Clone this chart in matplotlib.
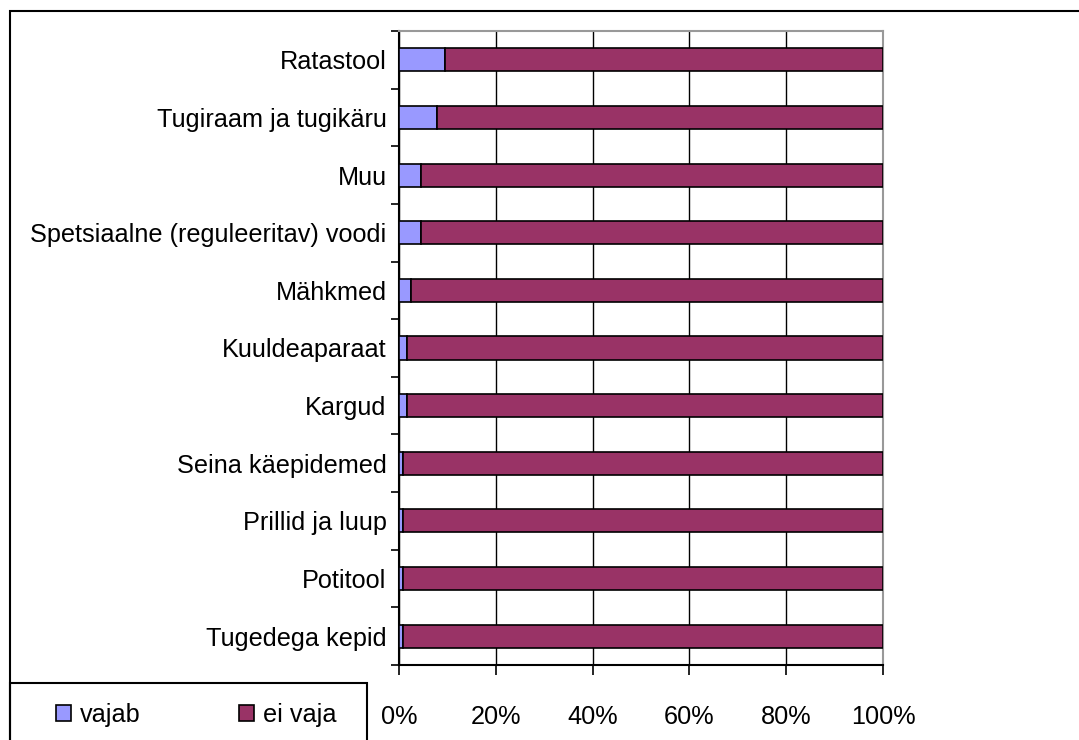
import matplotlib.pyplot as plt
from matplotlib.patches import Rectangle
import numpy as np

plt.rcParams['font.family'] = ['Liberation Sans', 'DejaVu Sans']

categories = ["Tugedega kepid", "Potitool", "Prillid ja luup", "Seina käepidemed",
              "Kargud", "Kuuldeaparaat", "Mähkmed",
              "Spetsiaalne (reguleeritav) voodi", "Muu", "Tugiraam ja tugikäru",
              "Ratastool"]
vajab = [0.9, 0.9, 0.9, 0.9, 1.6, 1.6, 2.5, 4.6, 4.6, 7.9, 9.5]
ei_vaja = [100 - v for v in vajab]
xticks = [0, 20, 40, 60, 80, 100]
xlabels = ["0%", "20%", "40%", "60%", "80%", "100%"]

W, H = 1079, 740
FS = 18.2
fig = plt.figure(figsize=(W / 100, H / 100), dpi=100)
ax = fig.add_axes([399 / W, 1 - 665 / H, (883 - 399) / W, (665 - 31) / H])

y = np.arange(len(categories))
ax.barh(y, vajab, height=0.4, color="#9999FF", edgecolor="black", linewidth=1.2,
        label="vajab", zorder=3)
ax.barh(y, ei_vaja, left=vajab, height=0.4, color="#993366", edgecolor="black",
        linewidth=1.2, label="ei vaja", zorder=3)

ax.set_xlim(0, 100)
ax.set_ylim(-0.5, len(categories) - 0.5)
ax.set_xticks(xticks)
ax.set_xticklabels(xlabels, fontsize=FS)
ax.set_yticks(y)
ax.set_yticklabels(categories, fontsize=FS)
ax.tick_params(axis="y", length=0, pad=9)
ax.tick_params(axis="x", length=7, width=1.2, pad=22, direction="out")
ax.set_yticks(np.arange(-0.5, len(categories), 1), minor=True)
ax.tick_params(axis="y", which="minor", length=6, width=1.2, direction="out")
ax.xaxis.grid(True, color="black", linewidth=1.0, zorder=0)
ax.set_axisbelow(True)
for side in ["top", "right"]:
    ax.spines[side].set_color("#999999")
    ax.spines[side].set_linewidth(1.5)
for side in ["left", "bottom"]:
    ax.spines[side].set_color("black")
    ax.spines[side].set_linewidth(1.5)

# outer chart border
fig.add_artist(Rectangle((10 / W, -0.1), 1.2, 1 - 11 / H + 0.1,
                         transform=fig.transFigure, fill=False,
                         edgecolor="black", linewidth=1.5, clip_on=False))
# legend box
fig.add_artist(Rectangle((10 / W, -0.1), (367 - 10) / W, 0.1 + 1 - 683 / H,
                         transform=fig.transFigure, fill=False,
                         edgecolor="black", linewidth=1.5, clip_on=False))

leg = fig.legend(loc="center left", bbox_to_anchor=(56 / W, 1 - 715 / H),
                 ncol=2, fontsize=FS, frameon=False, borderaxespad=0,
                 handlelength=0.6, handleheight=0.6, handletextpad=0.35,
                 columnspacing=3.9, borderpad=0)

fig.savefig("out.png", dpi=100)
